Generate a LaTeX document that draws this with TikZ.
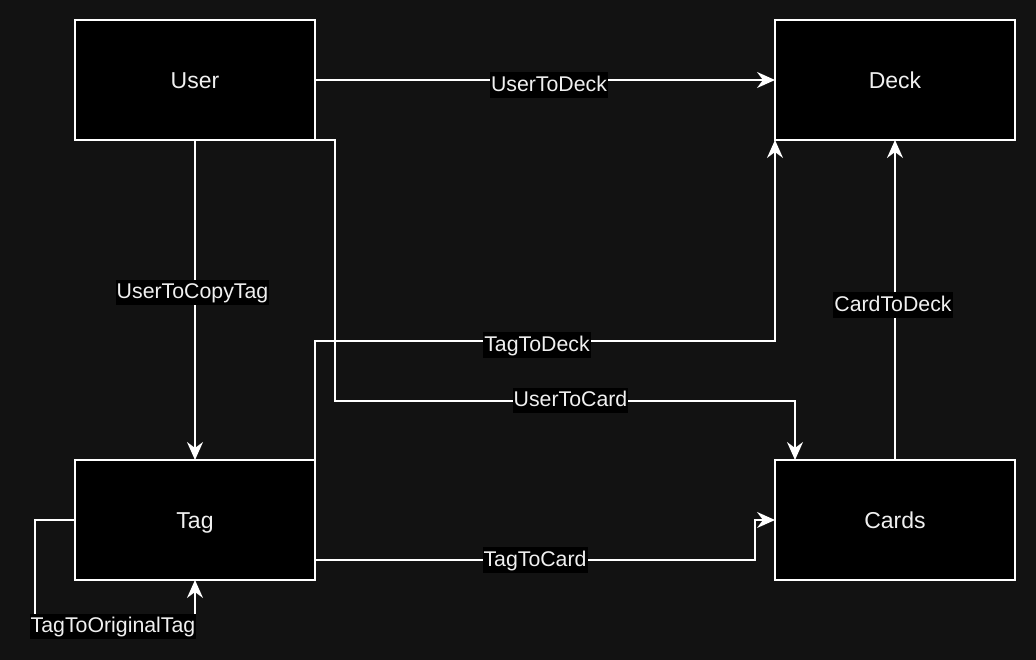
\documentclass[tikz,border=0pt]{standalone}
\usepackage{fontspec}
\setmainfont{Liberation Sans}
\usetikzlibrary{arrows.meta}
\definecolor{bgc}{RGB}{18,18,18}
\definecolor{txt}{RGB}{240,240,240}
\tikzset{
  box/.style={draw=white, fill=black, line width=2pt, minimum width=240pt, minimum height=120pt,
    inner sep=0pt, outer sep=0pt, text=txt, font=\fontsize{23}{27}\selectfont, text height=16.5pt, text depth=0pt},
  conn/.style={draw=white, line width=2pt, -{Stealth[length=18pt,width=16pt,inset=6pt]}},
  lbl/.style={fill=black, text=txt, font=\fontsize{21.3}{25}\selectfont, inner xsep=1pt, inner ysep=0pt,
    text height=19pt, text depth=6.5pt}
}
\begin{document}
\begin{tikzpicture}[x=1pt,y=-1pt]
\fill[bgc] (0,0) rectangle (1036,660);
\useasboundingbox (0,0) rectangle (1036,660);

\node[box] (user) at (195,80) {User};
\node[box] (deck) at (895,80) {Deck};
\node[box] (tag) at (195,520) {Tag};
\node[box] (cards) at (895,520) {Cards};

\coordinate (uc1) at (335,140);
\coordinate (uc2) at (795,401);
\coordinate (td1) at (315,341);
\coordinate (tc1) at (755,560);
\coordinate (to1) at (35,626);

% UserToDeck
\draw[conn] (user.east) -- (deck.west);
% UserToCopyTag
\draw[conn] (user.south) -- (tag.north);
% UserToCard
\draw[conn] (user.south east) -- (uc1) |- (uc2) -- (uc2 |- cards.north);
% TagToDeck
\draw[conn] (tag.north east) -- (td1) -| (deck.south west);
% CardToDeck
\draw[conn] (cards.north) -- (deck.south);
% TagToCard
\draw[conn] (tc1 -| tag.east) -- (tc1) |- (cards.west);
% TagToOriginalTag
\draw[conn] (tag.west) -| (to1) -| (tag.south);

\node[lbl] (l1) at (549,85) {UserToDeck};
\node[lbl] (l2) at (192.5,292.5) {UserToCopyTag};
\node[lbl] (l3) at (570.5,400.5) {UserToCard};
\node[lbl] (l4) at (537,345) {TagToDeck};
\node[lbl] (l5) at (893,305) {CardToDeck};
\node[lbl] (l6) at (535,560) {TagToCard};
\node[lbl] (l7) at (113,626.5) {TagToOriginalTag};
\end{tikzpicture}
\end{document}
